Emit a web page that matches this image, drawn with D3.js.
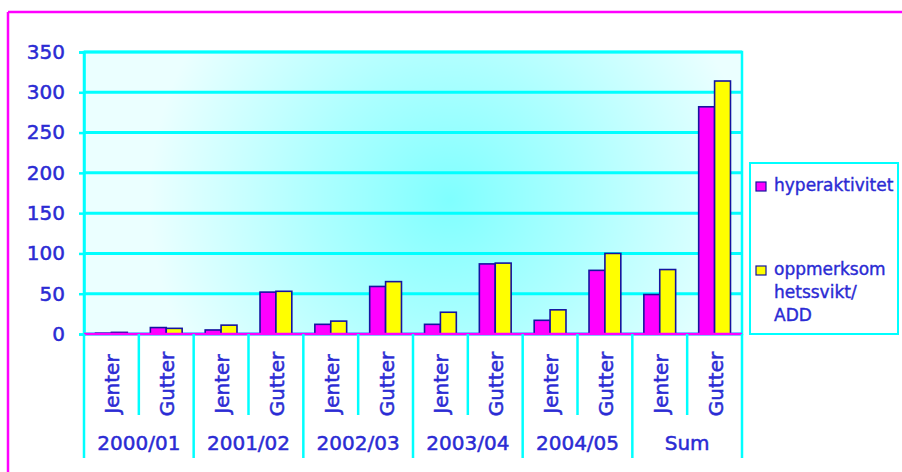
<!DOCTYPE html>
<html>
<head>
<meta charset="utf-8">
<script src="https://cdn.jsdelivr.net/npm/d3@7"></script>
<style>
  html, body { margin: 0; padding: 0; background: #fff; overflow: hidden; }
  svg { display: block; }
  text { font-family: "DejaVu Sans", Verdana, sans-serif; }
</style>
</head>
<body>
<script>
// Period groups and the two gender bars inside each group
const groups = ["2000/01", "2001/02", "2002/03", "2003/04", "2004/05", "Sum"];
const genders = ["Jenter", "Gutter"];

// Number of cases per category (group × gender, in order)
const hyperaktivitet = [1, 8, 5, 52, 12, 59, 12, 87, 17, 79, 49, 282];
const oppmerksomhetssvikt = [2, 7, 11, 53, 16, 65, 27, 88, 30, 100, 80, 314];

const seriesNames = ["hyperaktivitet", "oppmerksomhetssvikt/ADD"];
const legendLines = [["hyperaktivitet"], ["oppmerksom", "hetssvikt/", "ADD"]];
const yTicks = [0, 50, 100, 150, 200, 250, 300, 350];

const W = 902, H = 472;
const plot = { left: 84, right: 742, top: 52, bottom: 334 };
const textBlue = "#2b2bd4";
const cyan = "#00ffff";
const magenta = "#ff00ff";
const colors = [magenta, "#ffff00"];

const categories = [];
groups.forEach(g => genders.forEach(s => categories.push(g + "|" + s)));

const svg = d3.select("body").append("svg")
  .attr("width", W).attr("height", H);

// light cyan wash over the middle of the plot area
const defs = svg.append("defs");
const grad = defs.append("radialGradient")
  .attr("id", "wash").attr("gradientUnits", "userSpaceOnUse")
  .attr("cx", 450).attr("cy", 200).attr("r", 300);
grad.append("stop").attr("offset", 0).attr("stop-color", cyan).attr("stop-opacity", 0.5);
grad.append("stop").attr("offset", 0.45).attr("stop-color", cyan).attr("stop-opacity", 0.32);
grad.append("stop").attr("offset", 1).attr("stop-color", cyan).attr("stop-opacity", 0.08);

// outer chart frame: top and left edges
const frame = svg.append("g").attr("stroke", magenta).attr("stroke-width", 2.5);
frame.append("line").attr("x1", 8).attr("x2", W).attr("y1", 12).attr("y2", 12);
frame.append("line").attr("x1", 8).attr("x2", 8).attr("y1", 12).attr("y2", H);

const x = d3.scaleBand().domain(categories).range([plot.left, plot.right]).padding(0);
const y = d3.scaleLinear().domain([0, 350]).range([plot.bottom, plot.top]);

// plot background
svg.append("rect")
  .attr("x", plot.left).attr("y", plot.top)
  .attr("width", plot.right - plot.left).attr("height", plot.bottom - plot.top)
  .attr("fill", "url(#wash)");

// horizontal gridlines
svg.append("g").selectAll("line").data(yTicks).join("line")
  .attr("x1", plot.left).attr("x2", plot.right)
  .attr("y1", d => y(d)).attr("y2", d => y(d))
  .attr("stroke", cyan).attr("stroke-width", 3);

// plot frame
svg.append("rect")
  .attr("x", plot.left).attr("y", plot.top)
  .attr("width", plot.right - plot.left).attr("height", plot.bottom - plot.top)
  .attr("fill", "none").attr("stroke", cyan).attr("stroke-width", 2.5);

// y axis
const yAxis = svg.append("g")
  .attr("transform", `translate(${plot.left},0)`)
  .call(d3.axisLeft(y).tickValues(yTicks).tickSize(5).tickPadding(14));
yAxis.select(".domain").attr("stroke", cyan).attr("stroke-width", 2.5);
yAxis.selectAll(".tick line").attr("stroke", cyan).attr("stroke-width", 2.5);
yAxis.selectAll(".tick text")
  .attr("fill", textBlue)
  .attr("stroke", textBlue).attr("stroke-width", 0.5)
  .style("font-family", "'DejaVu Sans', Verdana, sans-serif")
  .style("font-size", "20px");

// bars
const band = x.bandwidth();
const barW = band * 0.29;
const seriesData = [hyperaktivitet, oppmerksomhetssvikt];
seriesData.forEach((vals, si) => {
  svg.append("g").selectAll("rect").data(categories).join("rect")
    .attr("x", (c, i) => x(c) + band / 2 - barW + si * barW)
    .attr("y", (c, i) => y(vals[i]))
    .attr("width", barW)
    .attr("height", (c, i) => y(0) - y(vals[i]))
    .attr("fill", colors[si])
    .attr("stroke", "#1414a0").attr("stroke-width", 1.6);
});

// baseline
svg.append("line")
  .attr("x1", plot.left).attr("x2", plot.right)
  .attr("y1", y(0)).attr("y2", y(0))
  .attr("stroke", magenta).attr("stroke-width", 2.5);

// category separators: short between genders, long between groups
const seps = d3.range(categories.length + 1);
svg.append("g").selectAll("line").data(seps).join("line")
  .attr("x1", i => plot.left + i * band).attr("x2", i => plot.left + i * band)
  .attr("y1", y(0))
  .attr("y2", i => (i % 2 === 0 ? 458 : 415))
  .attr("stroke", cyan).attr("stroke-width", 2.5);

// gender labels, rotated
svg.append("g").selectAll("text").data(categories).join("text")
  .attr("transform", c => `translate(${x(c) + band / 2 + 1},384) rotate(-90)`)
  .attr("text-anchor", "middle")
  .attr("dominant-baseline", "central")
  .attr("fill", textBlue)
  .attr("stroke", textBlue).attr("stroke-width", 0.5)
  .style("font-size", "20px")
  .text(c => c.split("|")[1]);

// group labels
svg.append("g").selectAll("text").data(groups).join("text")
  .attr("x", g => x(g + "|Jenter") + band)
  .attr("y", 450)
  .attr("text-anchor", "middle")
  .attr("fill", textBlue)
  .attr("stroke", textBlue).attr("stroke-width", 0.5)
  .style("font-size", "20px")
  .text(g => g);

// legend
const legend = svg.append("g");
legend.append("rect")
  .attr("x", 750).attr("y", 163).attr("width", 148).attr("height", 171)
  .attr("fill", "#fff").attr("stroke", cyan).attr("stroke-width", 2);
const legendY = [191, 275];
seriesNames.forEach((name, i) => {
  const item = legend.append("g");
  item.append("rect")
    .attr("x", 756).attr("y", legendY[i] - 9).attr("width", 10).attr("height", 9)
    .attr("fill", colors[i]).attr("stroke", "#1414a0").attr("stroke-width", 1.2);
  item.append("text")
    .attr("x", 774).attr("y", legendY[i])
    .attr("fill", textBlue)
    .attr("stroke", textBlue).attr("stroke-width", 0.4)
    .style("font-size", "17px")
    .selectAll("tspan").data(legendLines[i]).join("tspan")
    .attr("x", 774)
    .attr("dy", (d, j) => (j === 0 ? 0 : 23))
    .text(d => d);
});
</script>
</body>
</html>
